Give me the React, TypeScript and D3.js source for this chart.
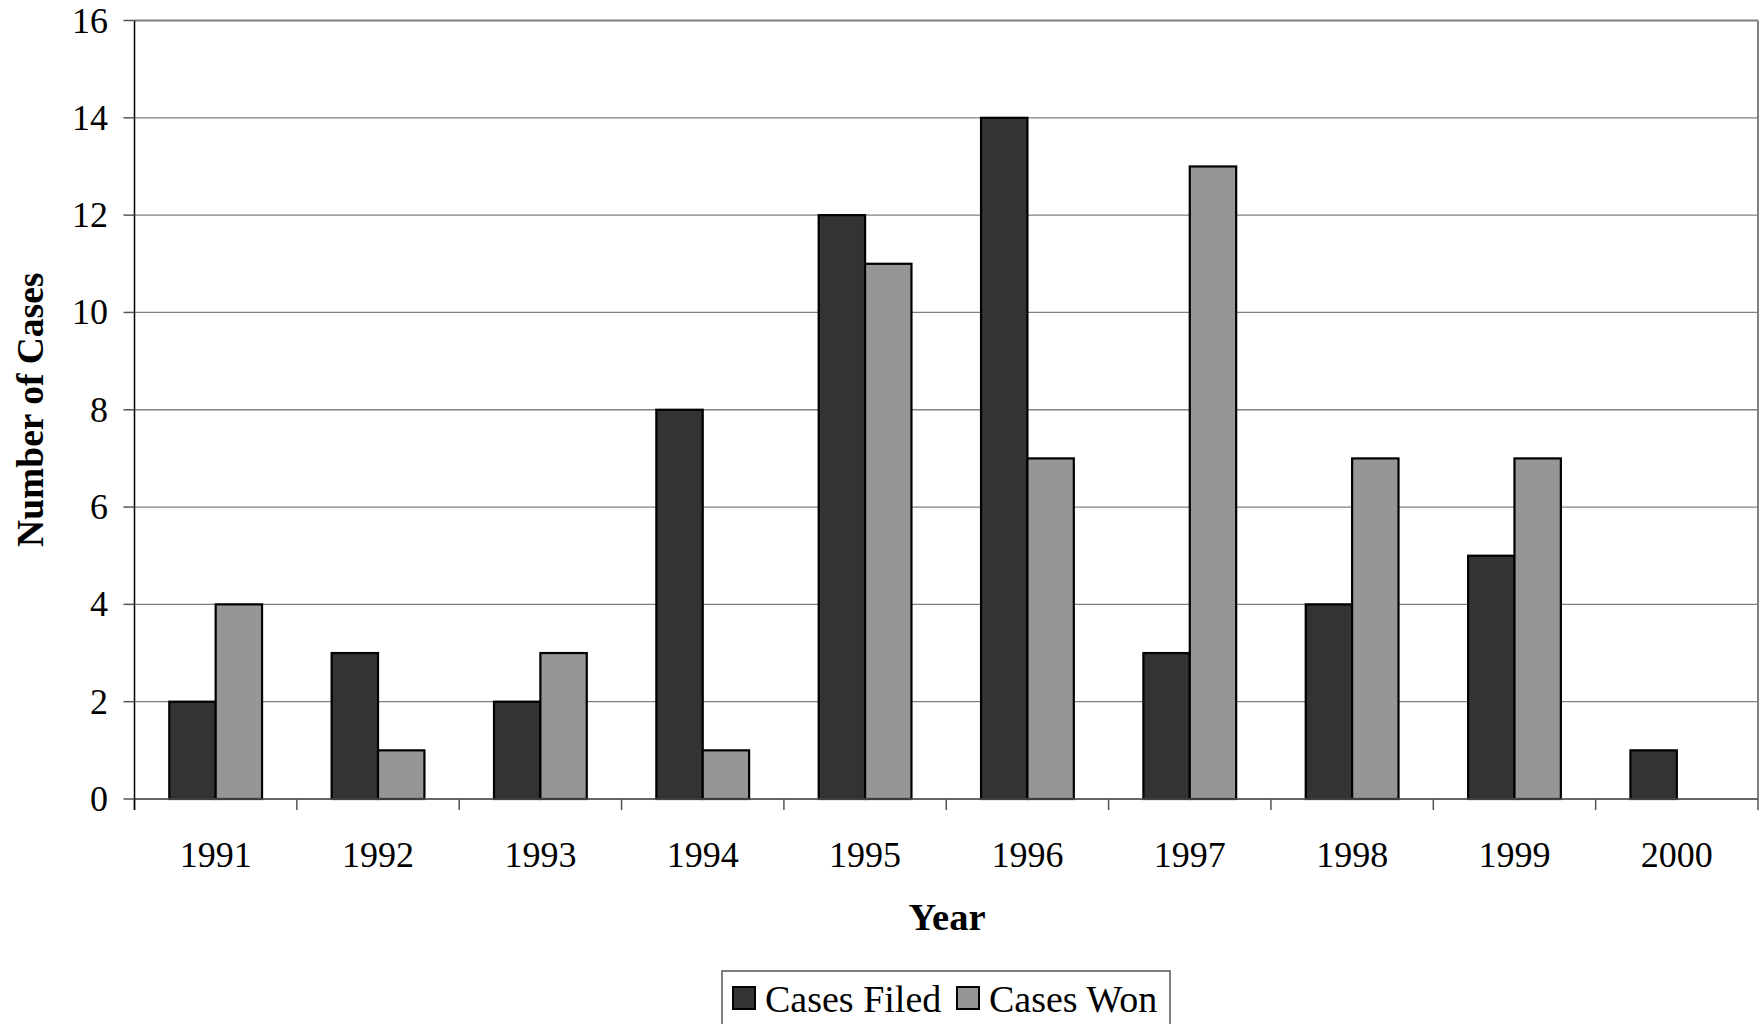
import React from "react";
import * as d3 from "d3";

const years = ["1991", "1992", "1993", "1994", "1995", "1996", "1997", "1998", "1999", "2000"];
const casesFiled = [2, 3, 2, 8, 12, 14, 3, 4, 5, 1];
const casesWon = [4, 1, 3, 1, 11, 7, 13, 7, 7, 0];
const yTicks = [0, 2, 4, 6, 8, 10, 12, 14, 16];
const seriesNames = ["Cases Filed", "Cases Won"];
const seriesColors = ["#333333", "#969696"];

const W = 1763;
const H = 1024;
const M = { left: 134.5, right: 1758, top: 20.5, bottom: 799 };
const FONT = "Liberation Serif";

export default function App() {
  const x = d3.scaleBand<string>().domain(years).range([M.left, M.right]).padding(0);
  const x1 = d3
    .scaleBand<string>()
    .domain(seriesNames)
    .range([0, x.bandwidth()])
    .paddingInner(0)
    .paddingOuter(0.75);
  const y = d3.scaleLinear().domain([0, 16]).range([M.bottom, M.top]);
  const series = [casesFiled, casesWon];

  const legendX = 722;
  const legendY = 971;
  const txt = { fontFamily: FONT };
  return (
    <svg
      width={W}
      height={H}
      style={{ position: "absolute", left: 0, top: 0, background: "#fff", fontFamily: FONT }}
    >
      <rect x={0} y={0} width={W} height={H} fill="#fff" />
      {yTicks.map((t) => (
        <line
          key={"g" + t}
          x1={M.left}
          x2={M.right}
          y1={y(t)}
          y2={y(t)}
          stroke="#808080"
          strokeWidth={t === 16 ? 2 : 1.3}
        />
      ))}
      <line x1={M.right} x2={M.right} y1={M.top} y2={M.bottom} stroke="#808080" strokeWidth={2} />
      {years.map((yr, i) => (
        <g key={yr}>
          {series.map((vals, s) =>
            vals[i] > 0 ? (
              <rect
                key={s}
                x={(x(yr) as number) + (x1(seriesNames[s]) as number)}
                y={y(vals[i])}
                width={x1.bandwidth()}
                height={y(0) - y(vals[i])}
                fill={seriesColors[s]}
                stroke="#000"
                strokeWidth={2.2}
              />
            ) : null
          )}
        </g>
      ))}
      <line x1={M.left} x2={M.right} y1={M.bottom} y2={M.bottom} stroke="#555" strokeWidth={1.5} />
      {years.concat(["end"]).map((yr, i) => {
        const xx = M.left + i * x.bandwidth();
        return <line key={"xt" + i} x1={xx} x2={xx} y1={M.bottom} y2={M.bottom + 11} stroke="#555" strokeWidth={1.5} />;
      })}
      {years.map((yr) => (
        <text
          key={"xl" + yr}
          x={(x(yr) as number) + x.bandwidth() / 2}
          y={867}
          textAnchor="middle"
          fontSize={36}
          fill="#000"
          style={txt}
        >
          {yr}
        </text>
      ))}
      <line x1={M.left} x2={M.left} y1={M.top} y2={M.bottom + 11} stroke="#000" strokeWidth={1.5} />
      {yTicks.map((t) => (
        <g key={"yt" + t}>
          <line x1={M.left - 11} x2={M.left} y1={y(t)} y2={y(t)} stroke="#555" strokeWidth={1.5} />
          <text x={108} y={y(t) + 12} textAnchor="end" fontSize={36} fill="#000" style={txt}>
            {t}
          </text>
        </g>
      ))}
      <text
        transform={`translate(43, ${(M.top + M.bottom) / 2}) rotate(-90)`}
        textAnchor="middle"
        fontSize={37.5}
        fontWeight="bold"
        fill="#000"
        style={txt}
      >
        Number of Cases
      </text>
      <text x={947} y={930} textAnchor="middle" fontSize={38.5} fontWeight="bold" fill="#000" style={txt}>
        Year
      </text>
      <rect x={legendX} y={legendY} width={448} height={H - legendY + 5} fill="#fff" stroke="#555" strokeWidth={1.5} />
      <rect x={733} y={987} width={22} height={22} fill={seriesColors[0]} stroke="#000" strokeWidth={2} />
      <text x={765} y={1012} fontSize={38} fill="#000" style={txt}>
        {seriesNames[0]}
      </text>
      <rect x={957} y={987} width={22} height={22} fill={seriesColors[1]} stroke="#000" strokeWidth={2} />
      <text x={989} y={1012} fontSize={38} fill="#000" style={txt}>
        {seriesNames[1]}
      </text>
    </svg>
  );
}
